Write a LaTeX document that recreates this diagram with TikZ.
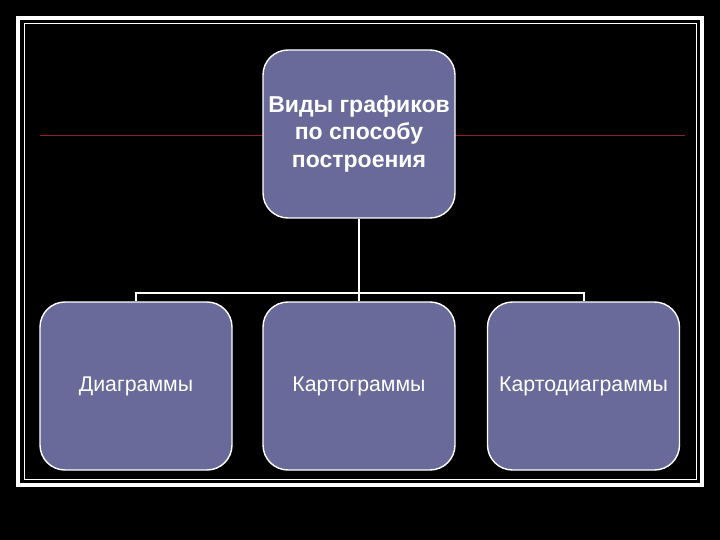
\documentclass[tikz,border=0pt]{standalone}
\usepackage{fontspec}
\setmainfont{Liberation Sans}
\definecolor{boxfill}{HTML}{6A6A9A}
\definecolor{lineRed}{HTML}{8A2424}
\begin{document}
\begin{tikzpicture}[x=1pt, y=-1pt,
      kind/.style ={draw=white, line width=1.4pt, fill=boxfill, text=white,
        rounded corners=25pt, minimum width=192pt, minimum height=168pt,
        align=center, font=\fontsize{21.3}{25}\selectfont},
      title/.style ={kind, font=\bfseries\fontsize{23}{27.5}\selectfont},
      link/.style ={draw=white, line width=2pt}]

   \fill[black] (0,0) rectangle (720,540);
   \useasboundingbox (0,0) rectangle (720,540);
   \draw[white, line width=4pt] (18,18) rectangle (702,485);
   \draw[white, line width=1pt] (24,24) rectangle (696,479);

   \draw[lineRed, line width=1pt] (40,136) -- (685,136);

   \node[title] (A)  at (359,134)  {Виды графиков\\по способу\\построения};
   \node[kind] (B)  at (136,386)  {Диаграммы};
   \node[kind] (C)  at (359,386)  {Картограммы};
   \node[kind] (D)  at (583.5,386)  {Картодиаграммы};

   \coordinate (J) at (359,293);

   \draw[link] (A) to  (J);
   \draw[link] (J) -| (B);
   \draw[link] (J) to  (C);
   \draw[link] (J) -| (D);

 \end{tikzpicture}
\end{document}
